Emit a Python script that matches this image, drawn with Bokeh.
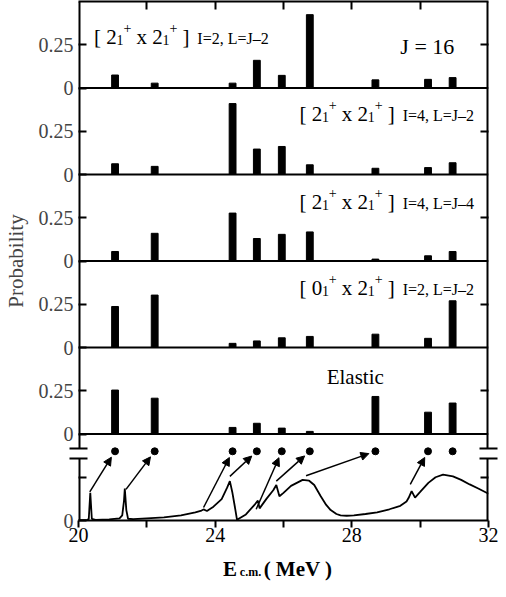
import math
from bokeh.plotting import figure
from bokeh.layouts import column
from bokeh.models import (Range1d, LinearAxis, FixedTicker, Span, Arrow, NormalHead,
                          ColumnDataSource)
from bokeh.core.properties import value
from bokeh.embed import file_html
from bokeh.resources import INLINE

# ---------------- data ----------------
energies = [21.07, 22.23, 24.51, 25.22, 25.95, 26.77, 28.69, 30.23, 30.95]
prob_22_I2_L2 = [0.075, 0.028, 0.028, 0.160, 0.073, 0.424, 0.047, 0.050, 0.060]
prob_22_I4_L2 = [0.062, 0.047, 0.410, 0.147, 0.162, 0.056, 0.036, 0.040, 0.068]
prob_22_I4_L4 = [0.055, 0.160, 0.277, 0.130, 0.154, 0.168, 0.011, 0.030, 0.055]
prob_02_I2_L2 = [0.237, 0.303, 0.024, 0.038, 0.056, 0.064, 0.077, 0.053, 0.270]
prob_elastic = [0.254, 0.207, 0.038, 0.062, 0.034, 0.015, 0.217, 0.126, 0.179]

panel_series = [prob_22_I2_L2, prob_22_I4_L2, prob_22_I4_L4, prob_02_I2_L2, prob_elastic]
panel_left_state = ["2", "2", "2", "0"]
panel_right_state = ["2", "2", "2", "2"]
panel_quantum = ["I=2, L=J\u20132", "I=4, L=J\u20132", "I=4, L=J\u20134", "I=2, L=J\u20132"]
spin_label = "J = 16"
elastic_label = "Elastic"

# cross-section curve (arbitrary units) in the lowest panel
curve_E = [20.0, 20.25, 20.30, 20.345, 20.39, 20.5, 20.9, 21.2, 21.28, 21.33, 21.355,
           21.40, 21.45, 21.6, 22.0, 22.5, 23.0, 23.42, 23.60, 23.66, 23.76, 23.95,
           24.19, 24.35, 24.43, 24.50, 24.58, 24.64, 24.9, 25.17, 25.25, 25.30, 25.5,
           25.7, 25.79, 25.88, 26.0, 26.22, 26.56, 26.75, 26.9, 27.09, 27.25, 27.38,
           27.55, 27.67, 27.85, 28.06, 28.4, 28.74, 29.1, 29.42, 29.6, 29.66, 29.75,
           29.85, 30.0, 30.24, 30.45, 30.67, 30.96, 31.2, 31.45, 31.7, 32.0]
curve_S = [0.005, 0.008, 0.015, 0.32, 0.02, 0.008, 0.012, 0.025, 0.06, 0.22, 0.37,
           0.12, 0.02, 0.015, 0.025, 0.035, 0.06, 0.094, 0.115, 0.128, 0.11, 0.16,
           0.247, 0.38, 0.455, 0.33, 0.15, 0.008, 0.07, 0.19, 0.23, 0.14, 0.25,
           0.35, 0.41, 0.28, 0.32, 0.40, 0.47, 0.46, 0.41, 0.28, 0.18, 0.12,
           0.075, 0.06, 0.055, 0.06, 0.075, 0.094, 0.13, 0.17, 0.22, 0.26, 0.34,
           0.265, 0.33, 0.435, 0.50, 0.53, 0.51, 0.47, 0.417, 0.37, 0.31]
dot_level = 0.80
arrow_x0 = [20.33, 21.39, 23.66, 24.43, 25.20, 25.79, 26.66, 29.71]
arrow_y0 = [0.33, 0.36, 0.15, 0.51, 0.13, 0.455, 0.517, 0.417]
arrow_to = [0, 1, 2, 3, 4, 5, 6, 7]

x_ticks = [20, 22, 24, 26, 28, 30, 32]
x_tick_labels = ["20", "", "24", "", "28", "", "32"]
prob_tick_labels = ["0", "0.25"]
x_title = ["E", "c.m.", "( MeV )"]

# ---------------- layout constants ----------------
FONT = "Liberation Serif"
N_BANDS = 6
PANEL_MAX = 0.5
LEFT, RIGHT = 74, 10
CANVAS_W = 498
FRAME_W = float(CANVAS_W - LEFT - RIGHT)
BAND_PX = 86.5
TOP_B, BOT_B = 1, 29
XT_H = 32
PX_X = 12.0 / FRAME_W          # MeV per pixel
PX_V = PANEL_MAX / BAND_PX     # panel units per pixel
BREAK_LO, BREAK_HI = 0.715, 0.83
XMIN, XMAX = x_ticks[0], x_ticks[-1]
BREAK_TICK = 9

p = figure(width=CANVAS_W, height=int(TOP_B + N_BANDS * BAND_PX + BOT_B),
           x_range=Range1d(XMIN, XMAX), y_range=Range1d(0, N_BANDS),
           output_backend="svg", toolbar_location=None,
           min_border_left=LEFT, min_border_right=RIGHT, min_border_top=TOP_B,
           min_border_bottom=BOT_B)
p.outline_line_color = None
p.grid.visible = False

names = []
for i in range(5):
    b = 5 - i
    nm = f"p{i}"
    p.extra_y_ranges[nm] = Range1d(start=-b * PANEL_MAX, end=(N_BANDS - b) * PANEL_MAX)
    names.append(nm)

# bottom axis
xa = p.xaxis[0]
xa.ticker = FixedTicker(ticks=x_ticks)
xa.major_label_overrides = {t: l for t, l in zip(x_ticks, x_tick_labels)}
xa.major_tick_in = 0
xa.major_tick_out = 7
xa.minor_tick_in = 0
xa.minor_tick_out = 0
xa.axis_line_width = 2
xa.major_tick_line_width = 2
xa.major_label_standoff = 0
xa.major_label_text_font = FONT
xa.major_label_text_font_size = "20px"
xa.major_label_text_color = "black"

# top axis (ticks only)
top_ticks = x_ticks[1:-1]
top = LinearAxis(ticker=FixedTicker(ticks=top_ticks), major_tick_in=8, major_tick_out=0,
                 minor_tick_in=0, minor_tick_out=0, major_label_text_font_size="1px",
                 major_label_overrides={t: "" for t in top_ticks},
                 major_label_standoff=0, axis_line_width=2, major_tick_line_width=2)
p.add_layout(top, "above")

# left axis: ticks 0 / 0.25 per panel; minor ticks draw the axis-break marks
y_ticks = []
y_over = {}
for b in range(N_BANDS):
    y_ticks += [float(b), b + 0.5]
    y_over[float(b)] = prob_tick_labels[0]
    y_over[b + 0.5] = prob_tick_labels[1] if b > 0 else ""
ya = p.yaxis[0]
ya.ticker = FixedTicker(ticks=y_ticks, minor_ticks=[BREAK_LO, BREAK_HI])
ya.major_label_overrides = y_over
ya.major_tick_in = 8
ya.major_tick_out = 0
ya.minor_tick_in = BREAK_TICK
ya.minor_tick_out = BREAK_TICK
ya.minor_tick_line_width = 2
ya.minor_tick_line_color = "black"
ya.major_tick_line_width = 2
ya.axis_line_color = None
ya.major_label_standoff = 5 - BREAK_TICK
ya.major_label_text_font = FONT
ya.major_label_text_font_size = "20px"
ya.axis_label = "Probability"
ya.axis_label_text_font = FONT
ya.axis_label_text_font_size = "21px"
ya.axis_label_text_font_style = "normal"
ya.axis_label_standoff = 8

right_ticks = [b + 0.5 for b in range(N_BANDS)]
right = LinearAxis(ticker=FixedTicker(ticks=right_ticks, minor_ticks=[BREAK_LO, BREAK_HI]),
                   major_tick_in=8, major_tick_out=0, minor_tick_in=BREAK_TICK,
                   minor_tick_out=BREAK_TICK, minor_tick_line_width=2,
                   minor_tick_line_color="black", axis_line_color=None,
                   major_label_text_font_size="1px",
                   major_label_overrides={t: "" for t in right_ticks},
                   major_label_standoff=0, major_tick_line_width=2)
p.add_layout(right, "right")

# panel dividers
for b in range(1, N_BANDS):
    p.add_layout(Span(location=b, dimension="width", line_color="black", line_width=2))

# vertical frame lines, broken in the lowest panel (half of the width is clipped by the frame)
seg_x = [XMIN, XMIN, XMAX, XMAX]
seg_y0 = [0, BREAK_HI, 0, BREAK_HI]
seg_y1 = [BREAK_LO, N_BANDS, BREAK_LO, N_BANDS]
p.segment(x0=seg_x, y0=seg_y0, x1=seg_x, y1=seg_y1, line_color="black", line_width=4)

# bars
for nm, vals in zip(names, panel_series):
    p.vbar(x=energies, top=vals, bottom=0, width=0.2, y_range_name=nm,
           fill_color="black", line_color="black")

# panel labels (pieces placed one after another)
ADV = {'[': 0.333, ']': 0.333, ' ': 0.25, 'x': 0.5, '+': 0.564, 'I': 0.333, '=': 0.564,
       ',': 0.25, 'L': 0.611, 'J': 0.389, '\u2013': 0.5}


def adv(s, size):
    return sum(ADV.get(c, 0.5) for c in s) * size


label_x = [20.456, 26.465, 26.465, 26.465]
label_y = [0.297, 0.350, 0.342, 0.345]
for i in range(4):
    pieces = [("[ " + panel_left_state[i], 21, 0), ("1", 14, 3), ("+", 14, -9),
              (" x " + panel_right_state[i], 21, 0), ("1", 14, 3), ("+", 14, -9),
              (" ]", 21, 0), ("  " + panel_quantum[i], 16, 2)]
    xs, ys, ts, ss = [], [], [], []
    cur = 0.0
    for t, sz, dy in pieces:
        lead = len(t) - len(t.lstrip(" "))
        cur += adv(" " * lead, sz)
        t = t.lstrip(" ")
        xs.append(label_x[i] + cur * PX_X)
        ys.append(label_y[i] - dy * PX_V)
        ts.append(t)
        ss.append(f"{sz}px")
        cur += adv(t, sz)
    src = ColumnDataSource(dict(x=xs, y=ys, text=ts, size=ss))
    p.text(x="x", y="y", text="text", source=src, text_font=value(FONT),
           text_font_size="size", text_baseline="alphabetic", text_align="left",
           text_color="black", y_range_name=names[i])

p.text(x=[29.42], y=[0.24], text=[spin_label], text_font=value(FONT),
       text_font_size=value("22px"), text_baseline="alphabetic", text_align="left",
       y_range_name=names[0])
p.text(x=[28.10], y=[0.33], text=[elastic_label], text_font=value(FONT),
       text_font_size=value("21px"), text_baseline="alphabetic", text_align="center",
       y_range_name=names[4])

# lowest panel: curve, dots, arrows
p.line(curve_E, curve_S, line_color="black", line_width=1.8)
p.scatter(x=energies, y=[dot_level] * len(energies), size=7, color="black")
sx_px = 1.0 / PX_X
for x0, y0, k in zip(arrow_x0, arrow_y0, arrow_to):
    x1, y1 = energies[k], dot_level
    L = math.hypot((x1 - x0) * sx_px, (y1 - y0) * BAND_PX)
    f = 1 - 7.0 / L
    p.add_layout(Arrow(end=NormalHead(size=8, fill_color="black", line_color="black", line_width=1),
                       x_start=x0, y_start=y0, x_end=x0 + (x1 - x0) * f, y_end=y0 + (y1 - y0) * f,
                       line_width=1.5, line_color="black"))

# x axis title in a strip below, sharing the x range
t2 = figure(width=CANVAS_W, height=XT_H, x_range=p.x_range, y_range=Range1d(0, XT_H),
            output_backend="svg", toolbar_location=None, x_axis_location=None,
            y_axis_location=None, min_border_left=LEFT, min_border_right=RIGHT,
            min_border_top=0, min_border_bottom=0, min_border=0)
t2.outline_line_color = None
t2.grid.visible = False
x0t = 24.23
tsrc = ColumnDataSource(dict(x=[x0t, x0t + 17 * PX_X, x0t + 41 * PX_X],
                             y=[XT_H - 19, XT_H - 22, XT_H - 19],
                             text=x_title, size=["21px", "12px", "21px"]))
t2.text(x="x", y="y", text="text", source=tsrc, text_font=value(FONT),
        text_font_style="bold", text_font_size="size", text_baseline="alphabetic",
        text_align="left", text_color="black")

layout = column(p, t2, spacing=0)
open("out.html", "w").write(file_html(layout, INLINE))
